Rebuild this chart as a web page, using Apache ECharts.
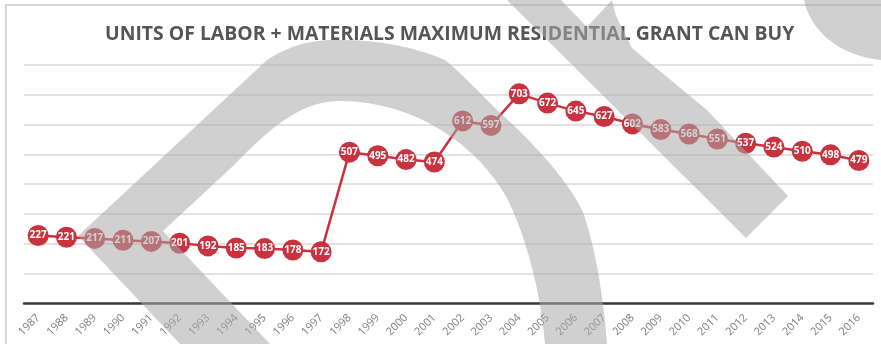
<!DOCTYPE html>
<html>
<head>
<meta charset="utf-8">
<title>Units of labor + materials maximum residential grant can buy</title>
<script src="https://cdn.jsdelivr.net/npm/echarts@6/dist/echarts.min.js"></script>
<style>
  html, body { margin: 0; padding: 0; background: #fff; }
  #chart { width: 881px; height: 344px; }
</style>
</head>
<body>
<div id="chart"></div>
<script>
const years = [
  '1987', '1988', '1989', '1990', '1991', '1992', '1993', '1994', '1995', '1996',
  '1997', '1998', '1999', '2000', '2001', '2002', '2003', '2004', '2005', '2006',
  '2007', '2008', '2009', '2010', '2011', '2012', '2013', '2014', '2015', '2016'
]
const units = [
  227, 221, 217, 211, 207, 201, 192, 185, 183, 178,
  172, 507, 495, 482, 474, 612, 597, 703, 672, 645,
  627, 602, 583, 568, 551, 537, 524, 510, 498, 479
]
const yMin = 0
const yMax = 800
const yStep = 100

const titleText = 'UNITS OF LABOR + MATERIALS MAXIMUM RESIDENTIAL GRANT CAN BUY'

// grey watermark strokes lying over the picture
const shade = 'rgba(170,170,170,0.55)'
const watermark = [
  // big arch with the chevron on its left foot
  'M78,236 L180,344 L270,344 L163,231 L232,167 C262,137 295,101 340,101 ' +
  'C415,101 478,145 508,200 C527,240 540,290 545,344 L607,344 ' +
  'C603,295 596,250 583,212 C565,175 525,135 497,110 C475,88 460,72 445,60 ' +
  'C410,45 370,39 330,40 C305,41 285,48 267,60 Z',
  // diagonal bar from the top edge
  'M507,0 L561,0 L587,27 L612,0 L616,16 L632,48 L707,110 L788,196 L746,238 Z',
  // curve in the top right corner
  'M804,0 C810,28 835,55 881,60 L881,0 Z'
]

// the graphic component has no free path type, so flatten M/L/C into polygon points
function toPoints(d) {
  const tokens = d.match(/[MLCZ]|-?[\d.]+/g)
  const pts = []
  let i = 0
  let cmd = null
  while (i < tokens.length) {
    const t = tokens[i]
    if (/[MLCZ]/.test(t)) { cmd = t; i++; if (cmd === 'Z') continue }
    const n = k => +tokens[i + k]
    if (cmd === 'M' || cmd === 'L') {
      pts.push([n(0), n(1)])
      i += 2
    } else if (cmd === 'C') {
      const p0 = pts[pts.length - 1]
      const x1 = n(0), y1 = n(1), x2 = n(2), y2 = n(3), x3 = n(4), y3 = n(5)
      for (let s = 1; s <= 16; s++) {
        const u = s / 16, v = 1 - u
        pts.push([
          v * v * v * p0[0] + 3 * v * v * u * x1 + 3 * v * u * u * x2 + u * u * u * x3,
          v * v * v * p0[1] + 3 * v * v * u * y1 + 3 * v * u * u * y2 + u * u * u * y3
        ])
      }
      i += 6
    } else {
      i++
    }
  }
  return pts
}

const chart = echarts.init(document.getElementById('chart'), null, { renderer: 'canvas' })

chart.setOption({
  animation: false,
  backgroundColor: '#fff',
  title: {
    text: titleText,
    left: 105,
    top: 25,
    padding: 0,
    textStyle: {
      fontFamily: 'Open Sans',
      fontSize: 19.4,
      fontWeight: 'bold',
      color: '#555'
    }
  },
  grid: { left: 24, right: 8, top: 65, bottom: 41 },
  xAxis: {
    type: 'category',
    data: years,
    boundaryGap: true,
    axisLine: { lineStyle: { color: '#3a3a3a', width: 2.5 } },
    axisTick: { show: false },
    axisLabel: {
      interval: 0,
      rotate: 45,
      margin: 13,
      fontSize: 11,
      fontFamily: 'Open Sans',
      color: '#7c7c7c'
    }
  },
  yAxis: {
    type: 'value',
    min: yMin,
    max: yMax,
    interval: yStep,
    axisLine: { show: false },
    axisTick: { show: false },
    axisLabel: { show: false },
    splitLine: { lineStyle: { color: '#dadada', width: 1.5 } }
  },
  series: [{
    type: 'line',
    data: units,
    symbol: 'circle',
    symbolSize: 21,
    itemStyle: { color: '#c9323f' },
    lineStyle: { color: '#c9323f', width: 2.5 },
    label: {
      show: true,
      position: 'inside',
      color: '#fff',
      fontFamily: 'Open Sans',
      fontWeight: 'bold',
      fontSize: 10
    }
  }],
  graphic: [
    {
      type: 'rect',
      z: 1,
      silent: true,
      shape: { x: 6, y: 5, width: 900, height: 400 },
      style: { fill: null, stroke: '#d6d6d6', lineWidth: 2 }
    }
  ].concat(watermark.map(d => ({
    type: 'polygon',
    z: 200,
    silent: true,
    shape: { points: toPoints(d) },
    style: { fill: shade }
  })))
})
</script>
</body>
</html>
